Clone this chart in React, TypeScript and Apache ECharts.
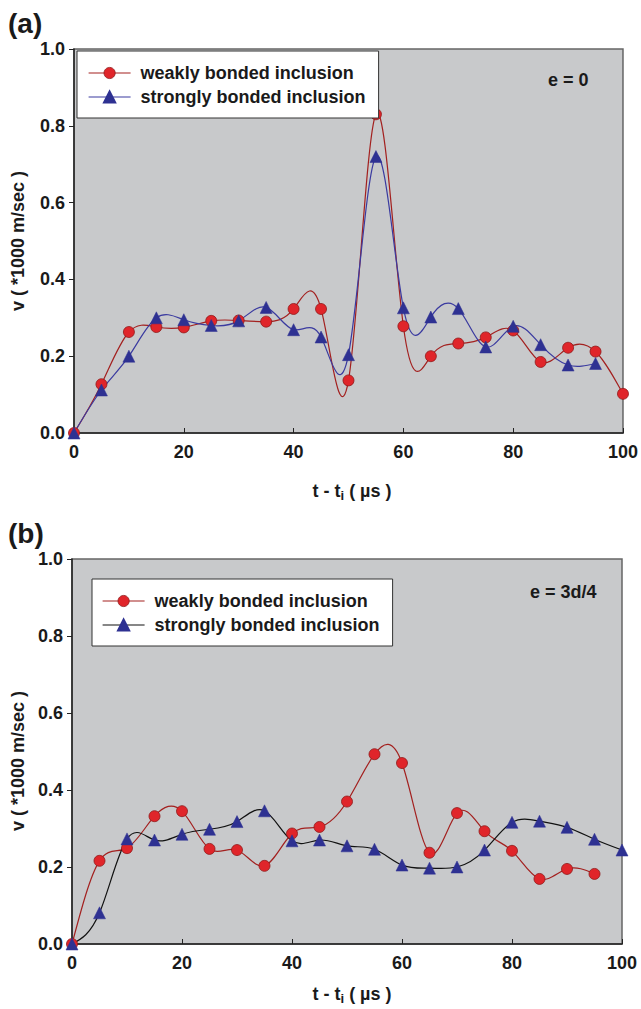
import React, { useEffect, useRef } from "react";
import * as echarts from "echarts";

const timeFull = [0, 5, 10, 15, 20, 25, 30, 35, 40, 45, 50, 55, 60, 65, 70, 75, 80, 85, 90, 95, 100];
const weakA = [0, 0.127, 0.263, 0.276, 0.275, 0.292, 0.293, 0.29, 0.323, 0.323, 0.137, 0.83, 0.278, 0.2, 0.233, 0.249, 0.267, 0.185, 0.222, 0.212, 0.102];
const strongA = [0, 0.112, 0.2, 0.3, 0.295, 0.28, 0.292, 0.327, 0.269, 0.25, 0.204, 0.72, 0.326, 0.302, 0.324, 0.224, 0.278, 0.23, 0.177, 0.181];
const weakB = [0, 0.216, 0.249, 0.332, 0.345, 0.247, 0.244, 0.203, 0.287, 0.304, 0.37, 0.493, 0.47, 0.237, 0.34, 0.293, 0.242, 0.169, 0.195, 0.182];
const strongB = [0, 0.081, 0.273, 0.27, 0.285, 0.298, 0.318, 0.346, 0.268, 0.27, 0.255, 0.246, 0.205, 0.197, 0.2, 0.244, 0.316, 0.319, 0.303, 0.272, 0.244];
const weakName = "weakly bonded inclusion";
const strongName = "strongly bonded inclusion";
const xTicks = [0, 20, 40, 60, 80, 100];
const yTicks = [0, 0.2, 0.4, 0.6, 0.8, 1.0];

const pairs = (vals: number[]) => vals.map((v, i) => [timeFull[i], v]);

// slopes of a natural cubic spline through the points (used to draw exact bezier segments)
function splineSlopes(pts: number[][]): number[] {
  const n = pts.length - 1;
  const h: number[] = [];
  for (let i = 0; i < n; i++) h.push(pts[i + 1][0] - pts[i][0]);
  const M = new Array(n + 1).fill(0);
  if (n >= 2) {
    const a: number[] = [], b: number[] = [], c: number[] = [], d: number[] = [];
    for (let i = 1; i < n; i++) {
      a.push(h[i - 1]);
      b.push(2 * (h[i - 1] + h[i]));
      c.push(h[i]);
      d.push(6 * ((pts[i + 1][1] - pts[i][1]) / h[i] - (pts[i][1] - pts[i - 1][1]) / h[i - 1]));
    }
    const m = b.length;
    for (let i = 1; i < m; i++) {
      const w = a[i] / b[i - 1];
      b[i] -= w * c[i - 1];
      d[i] -= w * d[i - 1];
    }
    const sol = new Array(m).fill(0);
    sol[m - 1] = d[m - 1] / b[m - 1];
    for (let i = m - 2; i >= 0; i--) sol[i] = (d[i] - c[i] * sol[i + 1]) / b[i];
    for (let i = 0; i < m; i++) M[i + 1] = sol[i];
  }
  const s: number[] = [];
  for (let i = 0; i < n; i++) s.push((pts[i + 1][1] - pts[i][1]) / h[i] - (h[i] * (2 * M[i] + M[i + 1])) / 6);
  s.push((pts[n][1] - pts[n - 1][1]) / h[n - 1] + (h[n - 1] * (M[n - 1] + 2 * M[n])) / 6);
  return s;
}

const FONT = "'Liberation Sans', Arial, sans-serif";
const RED_LINE = "#a3201f";
const RED_FILL = "#e0252a";
const BLUE_FILL = "#2e3192";
const BLUE_LINE = "#3a3aa0";
const TXT = "#1a1a1a";

export default function App() {
  const ref = useRef<HTMLDivElement>(null);
  useEffect(() => {
    document.body.style.margin = "0";
    const chart = echarts.init(ref.current!, null, { renderer: "svg" });
    const mkX = (gi: number) => ({
      type: "value",
      gridIndex: gi,
      min: xTicks[0],
      max: xTicks[xTicks.length - 1],
      interval: 20,
      axisLine: { show: true, onZero: false, lineStyle: { color: "#222", width: 1.5 } },
      axisTick: { show: true, inside: true, length: 5, lineStyle: { color: "#222" } },
      axisLabel: { color: TXT, fontSize: 18, fontWeight: "bold", fontFamily: FONT, margin: 10 },
      splitLine: { show: false },
    });
    const mkY = (gi: number) => ({
      type: "value",
      gridIndex: gi,
      min: yTicks[0],
      max: yTicks[yTicks.length - 1],
      interval: 0.2,
      axisLine: { show: true, onZero: false, lineStyle: { color: "#222", width: 1.5 } },
      axisTick: { show: true, inside: false, length: 5, lineStyle: { color: "#222" } },
      axisLabel: { color: TXT, fontSize: 18, fontWeight: "bold", fontFamily: FONT, margin: 9, formatter: (v: number) => v.toFixed(1) },
      splitLine: { show: false },
    });
    const curve = (vals: number[], gi: number, color: string) => {
      const pts = pairs(vals);
      const sl = splineSlopes(pts);
      return {
        type: "custom",
        xAxisIndex: gi,
        yAxisIndex: gi,
        z: 2,
        silent: true,
        clip: false,
        encode: { x: 0, y: 1 },
        data: pts,
        renderItem: (params: any, api: any) => {
          const i = params.dataIndex;
          if (i >= pts.length - 1) return null;
          const [x0, y0] = pts[i];
          const [x1, y1] = pts[i + 1];
          const dx = (x1 - x0) / 3;
          const p0 = api.coord([x0, y0]);
          const c1 = api.coord([x0 + dx, y0 + sl[i] * dx]);
          const c2 = api.coord([x1 - dx, y1 - sl[i + 1] * dx]);
          const p1 = api.coord([x1, y1]);
          return {
            type: "bezierCurve",
            shape: { x1: p0[0], y1: p0[1], cpx1: c1[0], cpy1: c1[1], cpx2: c2[0], cpy2: c2[1], x2: p1[0], y2: p1[1] },
            style: { stroke: color, lineWidth: 1.2, fill: "none" },
          };
        },
      };
    };
    const weakStyle = {
      symbol: "circle",
      symbolSize: 11,
      z: 3,
      itemStyle: { color: RED_FILL, borderColor: "#8e1b1b", borderWidth: 0.8 },
      lineStyle: { color: RED_LINE, width: 1.2, opacity: 0 },
    };
    const strongStyle = (lineColor: string) => ({
      symbol: "triangle",
      symbolSize: 12,
      z: 3,
      itemStyle: { color: BLUE_FILL, borderColor: BLUE_FILL, borderWidth: 0.5 },
      lineStyle: { color: lineColor, width: 1.2, opacity: 0 },
    });
    const legendText = { fontSize: 18, fontWeight: "bold", fontFamily: FONT, color: TXT, lineHeight: 20, padding: [0, 0, 0, 5] };
    const mkLegend = (left: number, top: number, padL: number, strongColor: string) => ({
      left,
      top,
      orient: "vertical",
      backgroundColor: "#ffffff",
      borderColor: "#333",
      borderWidth: 1,
      padding: [12, 13, 11, padL],
      itemGap: 4,
      itemWidth: 42,
      itemHeight: 14,
      selectedMode: false,
      textStyle: legendText,
      data: [
        { name: weakName, itemStyle: { color: RED_FILL, borderColor: "#8e1b1b", borderWidth: 0.8 }, lineStyle: { color: RED_LINE, width: 1.2, opacity: 1 } },
        { name: strongName, itemStyle: { color: BLUE_FILL }, lineStyle: { color: strongColor, width: 1.2, opacity: 1 } },
      ],
    });
    const titleText = (x: number, y: number, text: string, size: number) => ({
      type: "text",
      x,
      y,
      style: { text, fontSize: size, fontWeight: "bold", fontFamily: FONT, fill: TXT },
    });
    const yTitle = (cy: number) => ({
      type: "text",
      x: 18,
      y: cy,
      rotation: Math.PI / 2,
      style: { text: "v ( *1000 m/sec )", fontSize: 18, fontWeight: "bold", fontFamily: FONT, fill: TXT, align: "center", verticalAlign: "middle" },
    });
    const xTitle = (cx: number, y: number) => ({
      type: "text",
      x: cx,
      y,
      style: {
        text: "t - t{s|i} ( µs )",
        fontSize: 18,
        fontWeight: "bold",
        fontFamily: FONT,
        fill: TXT,
        align: "center",
        verticalAlign: "middle",
        rich: { s: { fontSize: 13, fontWeight: "bold", fontFamily: FONT, fill: TXT, padding: [9, 0, 0, 0] } },
      },
    });
    chart.setOption({
      animation: false,
      grid: [
        { left: 74, top: 49, width: 550, height: 384, show: true, backgroundColor: "#c8c9cb", borderColor: "#666", borderWidth: 1.5 },
        { left: 72, top: 559, width: 550, height: 385, show: true, backgroundColor: "#c8c9cb", borderColor: "#666", borderWidth: 1.5 },
      ],
      xAxis: [mkX(0), mkX(1)],
      yAxis: [mkY(0), mkY(1)],
      legend: [mkLegend(77, 51, 11, BLUE_LINE), mkLegend(92, 579, 10, "#111")],
      series: [
        curve(weakA, 0, RED_LINE),
        curve(strongA, 0, BLUE_LINE),
        curve(weakB, 1, RED_LINE),
        curve(strongB, 1, "#111"),
        { name: weakName, type: "line", xAxisIndex: 0, yAxisIndex: 0, data: pairs(weakA), ...weakStyle },
        { name: strongName, type: "line", xAxisIndex: 0, yAxisIndex: 0, data: pairs(strongA), ...strongStyle(BLUE_LINE) },
        { name: weakName, type: "line", xAxisIndex: 1, yAxisIndex: 1, data: pairs(weakB), ...weakStyle },
        { name: strongName, type: "line", xAxisIndex: 1, yAxisIndex: 1, data: pairs(strongB), ...strongStyle("#111") },
      ],
      graphic: [
        titleText(8, 9, "(a)", 28),
        titleText(8, 519, "(b)", 28),
        titleText(548, 71, "e = 0", 18),
        titleText(530, 583, "e = 3d/4", 18),
        yTitle(241),
        yTitle(761),
        xTitle(352, 491),
        xTitle(352, 994),
      ],
    });
    return () => chart.dispose();
  }, []);
  return <div ref={ref} style={{ width: 641, height: 1009 }} />;
}
